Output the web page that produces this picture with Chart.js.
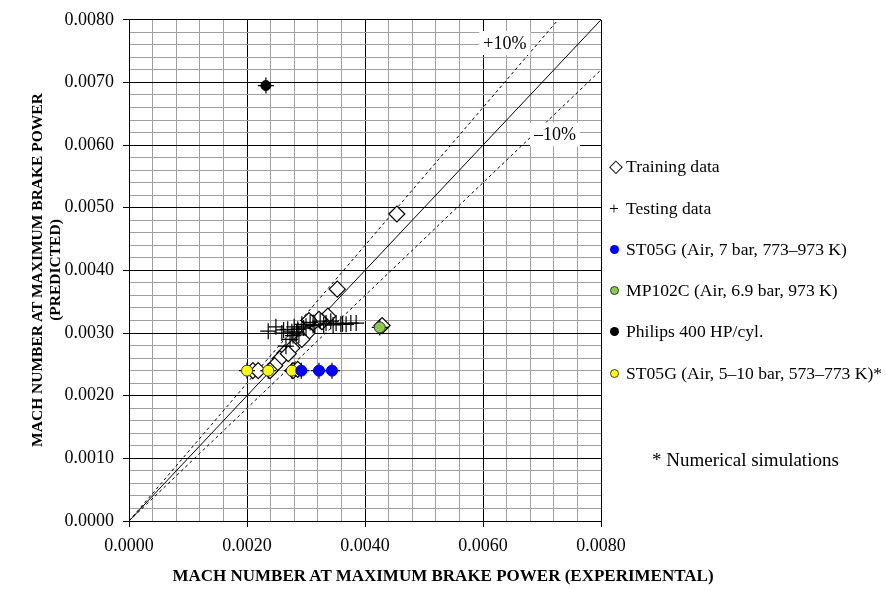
<!DOCTYPE html>
<html>
<head>
<meta charset="utf-8">
<script src="https://cdn.jsdelivr.net/npm/chart.js@4.4.0/dist/chart.umd.min.js"></script>
<style>
  html, body { margin: 0; padding: 0; background: #fff; }
  #wrap { position: relative; width: 886px; height: 591px; font-family: "Liberation Serif", serif; color: #000; }
  #chart { position: absolute; left: 0; top: 0; }
  .lg { position: absolute; left: 609px; font-size: 17.6px; white-space: nowrap; line-height: 20px; }
  .dot { display: inline-block; width: 9px; height: 9px; border-radius: 50%; margin-left: 1px; margin-right: 7px; vertical-align: 1px; box-sizing: border-box; }
  .sym { display: inline-block; width: 17px; }
  #xtitle { position: absolute; left: 0; width: 886px; top: 566px; text-align: center; font-weight: bold; font-size: 17px; }
  #ytitle { position: absolute; left: 46px; top: 270px; width: 460px; margin-left: -230px; text-align: center;
            font-weight: bold; font-size: 15.5px; line-height: 18px; transform: translateY(-50%) rotate(-90deg); }
  #note { position: absolute; left: 652px; top: 449px; font-size: 19px; white-space: nowrap; }
</style>
</head>
<body>
<div id="wrap">
  <canvas id="chart" width="886" height="591"></canvas>
  <div id="xtitle">MACH NUMBER AT MAXIMUM BRAKE POWER (EXPERIMENTAL)</div>
  <div id="ytitle">MACH NUMBER AT MAXIMUM BRAKE POWER<br>(PREDICTED)</div>
  <div class="lg" style="top:156px"><span class="sym">◇</span>Training data</div>
  <div class="lg" style="top:198px"><span class="sym">+</span>Testing data</div>
  <div class="lg" style="top:239px"><span class="dot" style="background:#0000ff"></span>ST05G (Air, 7 bar, 773–973 K)</div>
  <div class="lg" style="top:280px"><span class="dot" style="background:#8cc84b;border:1px solid #333"></span>MP102C (Air, 6.9 bar, 973 K)</div>
  <div class="lg" style="top:321px"><span class="dot" style="background:#000"></span>Philips 400 HP/cyl.</div>
  <div class="lg" style="top:363px"><span class="dot" style="background:#ffff00;border:1px solid #333"></span>ST05G (Air, 5–10 bar, 573–773 K)*</div>
  <div id="note">* Numerical simulations</div>
</div>
<script>
// training data (diamonds)
const trainX = [0.00454, 0.00353, 0.00429, 0.00337, 0.00327, 0.00312, 0.00302, 0.00293, 0.00276, 0.00264, 0.00256, 0.00247, 0.00270, 0.00210, 0.00219, 0.00239, 0.00278, 0.00286, 0.00322, 0.00305];
const trainY = [0.00490, 0.00370, 0.00312, 0.00327, 0.00318, 0.00316, 0.00300, 0.00290, 0.00276, 0.00268, 0.00259, 0.00248, 0.00267, 0.00240, 0.00240, 0.00240, 0.00240, 0.00242, 0.00322, 0.00320];

// testing data (plus markers)
const testX = [0.00236, 0.00249, 0.00259, 0.00269, 0.00276, 0.00280, 0.00286, 0.00293, 0.00300, 0.00307, 0.00315, 0.00324, 0.00334, 0.00342, 0.00351, 0.00359, 0.00368, 0.00376, 0.00385, 0.00273, 0.00266,
               0.00284, 0.00288, 0.00296, 0.00262, 0.00278, 0.00312, 0.00330, 0.00346, 0.00362,
               0.00292, 0.00322, 0.00344, 0.00425, 0.00232, 0.00200, 0.00236, 0.00276];
const testY = [0.00303, 0.00310, 0.00300, 0.00306, 0.00302, 0.00310, 0.00306, 0.00314, 0.00311, 0.00317, 0.00314, 0.00319, 0.00316, 0.00319, 0.00316, 0.00314, 0.00314, 0.00316, 0.00316, 0.00290, 0.00279,
               0.00300, 0.00297, 0.00308, 0.00305, 0.00296, 0.00312, 0.00313, 0.00313, 0.00315,
               0.00240, 0.00240, 0.00240, 0.00309, 0.00695, 0.00240, 0.00240, 0.00240];

// ST05G (Air, 7 bar)
const st05gX = [0.00292, 0.00322, 0.00344];
const st05gY = [0.00240, 0.00240, 0.00240];
// MP102C
const mp102cX = [0.00425];
const mp102cY = [0.00309];
// Philips
const philipsX = [0.00232];
const philipsY = [0.00695];
// ST05G simulations
const simX = [0.00200, 0.00236, 0.00276];
const simY = [0.00240, 0.00240, 0.00240];

// reference lines: slope and label
const lineSlopes = [1.0, 1.1, 0.9];
const lineLabels = ['', '+10%', '–10%'];
const labelAt = [null, [0.00637, 0.00763], [0.00722, 0.00617]];

const AXIS_MAX = 0.008;

function pts(xs, ys) { return xs.map((x, i) => ({ x: x, y: ys[i] })); }

function linePts(m) {
  const xEnd = Math.min(AXIS_MAX, AXIS_MAX / m);
  return [{ x: 0, y: 0 }, { x: xEnd, y: m * xEnd }];
}

const lineSets = lineSlopes.map((m, i) => ({
  type: 'line',
  data: linePts(m),
  borderColor: '#000',
  borderWidth: 1,
  borderDash: i === 0 ? [] : [3, 3],
  pointRadius: 0,
  fill: false,
  order: 10
}));

const pctLabels = {
  id: 'pctLabels',
  afterDatasetsDraw(chart) {
    const ctx = chart.ctx;
    const xs = chart.scales.x, ys = chart.scales.y;
    ctx.save();
    ctx.font = '18px "Liberation Serif"';
    ctx.textAlign = 'center';
    ctx.textBaseline = 'middle';
    lineLabels.forEach((t, i) => {
      if (!t) return;
      const px = xs.getPixelForValue(labelAt[i][0]);
      const py = ys.getPixelForValue(labelAt[i][1]);
      const w = ctx.measureText(t).width + 8;
      ctx.fillStyle = '#fff';
      ctx.fillRect(px - w / 2, py - 12, w, 24);
      ctx.fillStyle = '#000';
      ctx.fillText(t, px, py + 1);
    });
    ctx.restore();
  }
};

const isMajor = (v, step, every) => Math.round(v / step) % every === 0;

new Chart(document.getElementById('chart'), {
  type: 'scatter',
  data: {
    datasets: [
      { label: 'Training data', data: pts(trainX, trainY), pointStyle: 'rectRot', pointRadius: 8,
        backgroundColor: '#fff', borderColor: '#000', borderWidth: 1.2, order: 6 },
      { label: 'Testing data', data: pts(testX, testY), pointStyle: 'cross', pointRadius: 8,
        borderColor: '#000', borderWidth: 1.2, order: 5 },
      { label: 'ST05G (Air, 7 bar, 773–973 K)', data: pts(st05gX, st05gY), pointRadius: 5.5,
        backgroundColor: '#0000ff', borderColor: '#0000ff', borderWidth: 1, order: 1 },
      { label: 'MP102C (Air, 6.9 bar, 973 K)', data: pts(mp102cX, mp102cY), pointRadius: 5.5,
        backgroundColor: '#8cc84b', borderColor: '#333', borderWidth: 1, order: 1 },
      { label: 'Philips 400 HP/cyl.', data: pts(philipsX, philipsY), pointRadius: 5,
        backgroundColor: '#000', borderColor: '#000', borderWidth: 1, order: 1 },
      { label: 'ST05G (Air, 5–10 bar, 573–773 K)*', data: pts(simX, simY), pointRadius: 5.5,
        backgroundColor: '#ffff00', borderColor: '#333', borderWidth: 1, order: 1 },
      ...lineSets
    ]
  },
  options: {
    responsive: false,
    devicePixelRatio: 1,
    animation: false,
    layout: { padding: { left: 0, right: 285, top: 17, bottom: 0 } },
    plugins: { legend: { display: false }, tooltip: { enabled: false } },
    scales: {
      x: {
        type: 'linear', min: 0, max: AXIS_MAX,
        afterFit: s => { s.height = 70; },
        border: { color: '#000', width: 1 },
        grid: {
          color: c => isMajor(c.tick.value, 0.0004, 5) ? '#000' : '#a0a0a0',
          tickColor: c => isMajor(c.tick.value, 0.0004, 5) ? '#000' : 'rgba(0,0,0,0)',
          tickLength: 6
        },
        ticks: {
          stepSize: 0.0004, autoSkip: false, maxRotation: 0, padding: 8,
          color: '#000', font: { family: 'Liberation Serif', size: 18 },
          callback: v => isMajor(v, 0.0004, 5) ? v.toFixed(4) : ''
        }
      },
      y: {
        type: 'linear', min: 0, max: AXIS_MAX,
        afterFit: s => { s.width = 129; },
        border: { color: '#000', width: 1 },
        grid: {
          color: c => isMajor(c.tick.value, 0.0002, 5) ? '#000' : '#a0a0a0',
          tickColor: c => isMajor(c.tick.value, 0.0002, 5) ? '#000' : 'rgba(0,0,0,0)',
          tickLength: 6
        },
        ticks: {
          stepSize: 0.0002, autoSkip: false, padding: 9,
          color: '#000', font: { family: 'Liberation Serif', size: 18 },
          callback: v => isMajor(v, 0.0002, 5) ? v.toFixed(4) : ''
        }
      }
    }
  },
  plugins: [pctLabels]
});
</script>
</body>
</html>
